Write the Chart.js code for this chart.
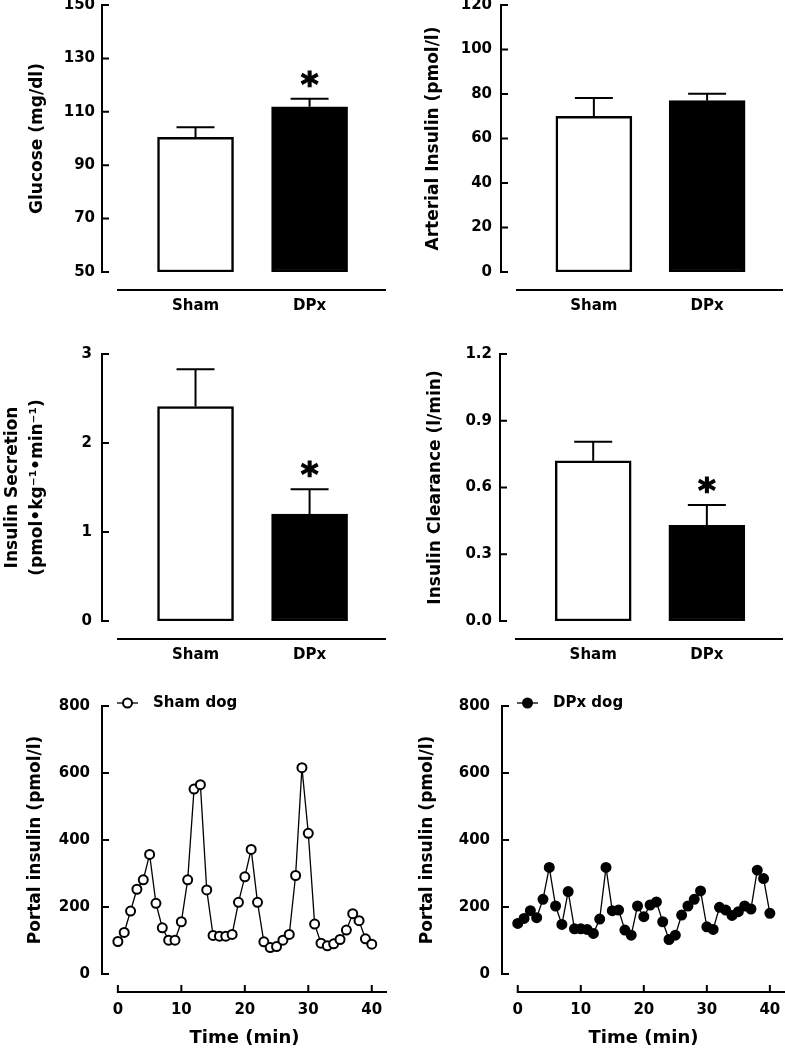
<!DOCTYPE html>
<html>
<head>
<meta charset="utf-8">
<title>Glucose, insulin and portal insulin: Sham vs DPx</title>
<script src="https://cdn.jsdelivr.net/npm/chart.js@4.4.1/dist/chart.umd.min.js"></script>
<style>
  html, body { margin: 0; padding: 0; background: #fff; }
  body { width: 785px; height: 1050px; position: relative; overflow: hidden; }
  .panel { position: absolute; }
</style>
</head>
<body>
<div class="panel" style="left:0;top:-7px;width:392px;height:329px"><canvas id="glucoseChart"></canvas></div>
<div class="panel" style="left:392px;top:-7px;width:393px;height:329px"><canvas id="arterialChart"></canvas></div>
<div class="panel" style="left:0;top:342px;width:392px;height:329px"><canvas id="secretionChart"></canvas></div>
<div class="panel" style="left:392px;top:342px;width:393px;height:329px"><canvas id="clearanceChart"></canvas></div>
<div class="panel" style="left:0;top:694px;width:392px;height:356px"><canvas id="shamDogChart"></canvas></div>
<div class="panel" style="left:392px;top:694px;width:393px;height:356px"><canvas id="dpxDogChart"></canvas></div>
<script>
// groups
var groups = ['Sham', 'DPx'];

// bar panels: mean, SE, significance mark
var glucose = [100.4, 111.9];
var glucoseErr = [3.8, 3.0];
var glucoseSig = [false, true];

var arterialInsulin = [70, 77];
var arterialInsulinErr = [8.2, 3.1];
var arterialInsulinSig = [false, false];

var secretion = [2.41, 1.2];
var secretionErr = [0.42, 0.28];
var secretionSig = [false, true];

var clearance = [0.72, 0.43];
var clearanceErr = [0.086, 0.091];
var clearanceSig = [false, true];

// tick labels
var glucoseTicks = [50, 70, 90, 110, 130, 150];
var arterialTicks = [0, 20, 40, 60, 80, 100, 120];
var secretionTicks = [0, 1, 2, 3];
var clearanceTicks = [0, 0.3, 0.6, 0.9, 1.2];
var portalTicks = [0, 200, 400, 600, 800];
var minuteTicks = [0, 10, 20, 30, 40];

// portal insulin time course (pmol/l), one sample per minute
var minutes = [0, 1, 2, 3, 4, 5, 6, 7, 8, 9, 10, 11, 12, 13, 14, 15, 16, 17, 18, 19, 20,
               21, 22, 23, 24, 25, 26, 27, 28, 29, 30, 31, 32, 33, 34, 35, 36, 37, 38, 39, 40];
var shamDog = [97, 124, 188, 253, 281, 357, 211, 138, 101, 101, 156, 281, 552, 565, 251, 115, 113, 113, 118, 214, 290,
               372, 214, 96, 79, 82, 101, 118, 294, 616, 420, 149, 92, 84, 90, 103, 131, 180, 159, 105, 89];
var dpxDog = [151, 166, 189, 168, 223, 318, 203, 148, 246, 135, 135, 133, 121, 164, 318, 189, 191, 131, 116, 203, 171,
              206, 215, 156, 103, 116, 176, 203, 223, 248, 141, 133, 199, 191, 175, 186, 203, 194, 310, 285, 181];

Chart.defaults.font.family = "'DejaVu Sans', Verdana, sans-serif";
Chart.defaults.font.weight = 'bold';
Chart.defaults.font.size = 15;
Chart.defaults.color = '#000';
Chart.defaults.animation = false;

// fixed axis sizes, no automatic label padding
function fixSize(w, h)
{
  return function (s) {
    if (w) s.width = w;
    if (h) s.height = h;
    s.paddingTop = s.paddingBottom = s.paddingLeft = s.paddingRight = 0;
  };
}

// detached x axis line + inward tick marks
var axisStyle = {
  id: 'axisStyle',
  afterDraw: function (chart, args, opts) {
    var ctx = chart.ctx, area = chart.chartArea;
    var x = chart.scales.x, y = chart.scales.y;
    var lineY = area.bottom + 18;
    var start = opts.xTicks ? x.getPixelForValue(x.ticks[0].value) : area.left + 16;
    ctx.save();
    ctx.strokeStyle = '#000';
    ctx.lineWidth = 2;
    ctx.beginPath();
    ctx.moveTo(start - 1, lineY);
    ctx.lineTo(area.right, lineY);
    y.ticks.forEach(function (t) {
      var py = y.getPixelForValue(t.value);
      ctx.moveTo(area.left, py);
      ctx.lineTo(area.left + 7, py);
    });
    if (opts.xTicks) {
      x.ticks.forEach(function (t) {
        var px = x.getPixelForValue(t.value);
        ctx.moveTo(px, lineY + 1);
        ctx.lineTo(px, lineY - 7);
      });
    }
    ctx.stroke();
    ctx.restore();
  }
};

// one-sided error bars and asterisks
var errorBars = {
  id: 'errorBars',
  afterDatasetsDraw: function (chart, args, opts) {
    var ctx = chart.ctx, y = chart.scales.y;
    var meta = chart.getDatasetMeta(0);
    var data = chart.data.datasets[0].data;
    ctx.save();
    ctx.strokeStyle = '#000';
    ctx.fillStyle = '#000';
    meta.data.forEach(function (bar, i) {
      var top = y.getPixelForValue(data[i].y + opts.errors[i]);
      ctx.lineWidth = 2;
      ctx.beginPath();
      ctx.moveTo(bar.x, bar.y);
      ctx.lineTo(bar.x, top);
      ctx.moveTo(bar.x - 19, top);
      ctx.lineTo(bar.x + 19, top);
      ctx.stroke();
      if (opts.marks[i]) {
        ctx.font = "bold 34px 'DejaVu Sans'";
        ctx.textAlign = 'center';
        ctx.textBaseline = 'alphabetic';
        ctx.lineWidth = 1.2;
        ctx.fillText('*', bar.x, top - 3);
        ctx.strokeText('*', bar.x, top - 3);
      }
    });
    ctx.restore();
  }
};

// small legend at the top left of the line panels
var dogLegend = {
  id: 'dogLegend',
  afterDraw: function (chart) {
    var ds = chart.data.datasets[0];
    var ctx = chart.ctx, area = chart.chartArea;
    var cy = area.top - 3;
    ctx.save();
    ctx.strokeStyle = '#000';
    ctx.lineWidth = ds.borderWidth;
    ctx.beginPath();
    ctx.moveTo(area.left + 15, cy);
    ctx.lineTo(area.left + 36, cy);
    ctx.stroke();
    ctx.beginPath();
    ctx.arc(area.left + 25.5, cy, ds.pointRadius, 0, Math.PI * 2);
    ctx.fillStyle = ds.pointBackgroundColor;
    ctx.fill();
    ctx.lineWidth = ds.pointBorderWidth;
    ctx.stroke();
    ctx.fillStyle = '#000';
    ctx.font = "bold 15px 'DejaVu Sans'";
    ctx.textBaseline = 'middle';
    ctx.fillText(ds.label, area.left + 51, cy);
    ctx.restore();
  }
};

function yScale(ticks, title, yWidth, titlePad, tickPad, fmt, lineHeight)
{
  return {
    min: ticks[0],
    max: ticks[ticks.length - 1],
    afterBuildTicks: function (s) { s.ticks = ticks.map(function (v) { return {value: v}; }); },
    grid: {display: false, drawTicks: false},
    border: {display: true, color: '#000', width: 2},
    ticks: {padding: tickPad, callback: fmt || function (v) { return v; }},
    title: {display: true, text: title, font: {size: 17, lineHeight: lineHeight || 1.2}, padding: {top: titlePad, bottom: 0}},
    afterFit: fixSize(yWidth, 0)
  };
}

function barChart(id, values, errors, marks, ticks, title, yWidth, titlePad, tickPad, padRight, fmt, lineHeight)
{
  return new Chart(id, {
    type: 'bar',
    data: {
      datasets: [{
        data: values.map(function (v, i) { return {x: i + 1, y: v}; }),
        base: ticks[0],
        backgroundColor: ['#fff', '#000'],
        borderColor: '#000',
        borderWidth: 2.5,
        borderSkipped: false,
        barThickness: 76
      }]
    },
    options: {
      responsive: true,
      maintainAspectRatio: false,
      layout: {autoPadding: false, padding: {top: 12, right: padRight, bottom: 0, left: 0}},
      plugins: {
        legend: {display: false},
        tooltip: {enabled: false},
        errorBars: {errors: errors, marks: marks},
        axisStyle: {xTicks: false}
      },
      scales: {
        x: {
          type: 'linear',
          offset: false,
          min: 0.18,
          max: 2.67,
          afterBuildTicks: function (s) { s.ticks = groups.map(function (g, i) { return {value: i + 1}; }); },
          grid: {display: false, drawTicks: false, offset: false},
          border: {display: false},
          ticks: {padding: 25, callback: function (v) { return groups[v - 1]; }},
          afterFit: fixSize(0, 50)
        },
        y: yScale(ticks, title, yWidth, titlePad, tickPad, fmt, lineHeight)
      }
    },
    plugins: [errorBars, axisStyle]
  });
}

function dogChart(id, label, series, fill, yWidth, padRight)
{
  return new Chart(id, {
    type: 'line',
    data: {
      datasets: [{
        label: label,
        data: minutes.map(function (t, i) { return {x: t, y: series[i]}; }),
        borderColor: '#000',
        borderWidth: 1.3,
        pointRadius: 4.5,
        pointBorderWidth: 2,
        pointBorderColor: '#000',
        pointBackgroundColor: fill,
        tension: 0
      }]
    },
    options: {
      responsive: true,
      maintainAspectRatio: false,
      layout: {autoPadding: false, padding: {top: 12, right: padRight, bottom: 0, left: 0}},
      plugins: {
        legend: {display: false},
        tooltip: {enabled: false},
        axisStyle: {xTicks: true}
      },
      scales: {
        x: {
          type: 'linear',
          min: -2.5,
          max: 42.4,
          afterBuildTicks: function (s) { s.ticks = minuteTicks.map(function (v) { return {value: v}; }); },
          grid: {display: false, drawTicks: false},
          border: {display: false},
          ticks: {padding: 27},
          title: {display: true, text: 'Time (min)', font: {size: 18}, padding: {top: 0, bottom: 1}},
          afterFit: fixSize(0, 76)
        },
        y: yScale(portalTicks, 'Portal insulin (pmol/l)', yWidth, 25, 12)
      }
    },
    plugins: [axisStyle, dogLegend]
  });
}

barChart('glucoseChart', glucose, glucoseErr, glucoseSig, glucoseTicks, 'Glucose (mg/dl)', 102, 27, 7, 6);
barChart('arterialChart', arterialInsulin, arterialInsulinErr, arterialInsulinSig, arterialTicks, 'Arterial Insulin (pmol/l)', 109, 31, 9, 2);
barChart('secretionChart', secretion, secretionErr, secretionSig, secretionTicks,
  ['Insulin Secretion', '(pmol\u2022kg\u207B\u00B9\u2022min\u207B\u00B9)'], 102, 0, 10, 6, null, 25 / 17);
barChart('clearanceChart', clearance, clearanceErr, clearanceSig, clearanceTicks, 'Insulin Clearance (l/min)', 108, 33, 8, 2,
  function (v) { return v.toFixed(1); });

dogChart('shamDogChart', 'Sham dog', shamDog, '#fff', 102, 5);
dogChart('dpxDogChart', 'DPx dog', dpxDog, '#000', 110, 0);
</script>
</body>
</html>
